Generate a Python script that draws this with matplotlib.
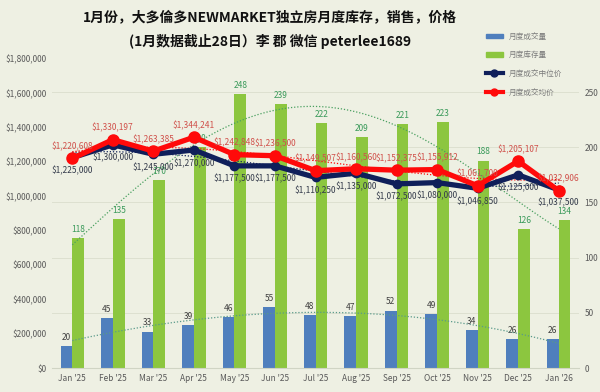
import numpy as np
import matplotlib
matplotlib.use("Agg")
import matplotlib.pyplot as plt
from matplotlib.lines import Line2D
from matplotlib.patches import Patch
from matplotlib.ticker import FuncFormatter

plt.rcParams['font.family'] = ['Noto Sans CJK SC', 'DejaVu Sans']

months = ["Jan '25", "Feb '25", "Mar '25", "Apr '25", "May '25", "Jun '25", "Jul '25",
          "Aug '25", "Sep '25", "Oct '25", "Nov '25", "Dec '25", "Jan '26"]
sales = [20, 45, 33, 39, 46, 55, 48, 47, 52, 49, 34, 26, 26]
inventory = [118, 135, 170, 200, 248, 239, 222, 209, 221, 223, 188, 126, 134]
median_price = [1225000, 1300000, 1245000, 1270000, 1177500, 1177500, 1110250,
                1135000, 1072500, 1080000, 1046850, 1125000, 1037500]
avg_price = [1220608, 1330197, 1263385, 1344241, 1242848, 1236500, 1149507,
             1160560, 1152375, 1155912, 1061700, 1205107, 1032906]

BG = "#eef0e3"
BLUE = "#4f7fbd"
GREEN = "#8cc63f"
NAVY = "#0f1f5a"
RED = "#ff0a0a"

fig = plt.figure(figsize=(6, 3.92), dpi=100, facecolor=BG)
ax = fig.add_axes([0.0867, 0.0612, 0.8783, 0.7883], facecolor=BG)
ax2 = ax.twinx()

x = np.arange(len(months))
w = 0.29

# secondary axis: bars
ax2.bar(x - w / 2, sales, w, color=BLUE, zorder=2)
ax2.bar(x + w / 2, inventory, w, color=GREEN, zorder=2)
ax2.set_ylim(0, 280)
ax2.set_yticks([0, 50, 100, 150, 200, 250])
for xi, v in zip(x, sales):
    ax2.annotate(str(v), (xi - w / 2, v), xytext=(0, 3), textcoords="offset points",
                 ha="center", va="bottom", fontsize=6, color="#404040")
for xi, v in zip(x, inventory):
    ax2.annotate(str(v), (xi + w / 2, v), xytext=(0, 3), textcoords="offset points",
                 ha="center", va="bottom", fontsize=6, color="#3a9a5a")

# polynomial trendlines
xs = np.linspace(0, len(months) - 1, 200)
ax2.plot(xs, np.polyval(np.polyfit(x, sales, 3), xs), ls=(0, (1, 1.5)), lw=0.9,
         color="#5a9a8a", zorder=3)
ax2.plot(xs, np.polyval(np.polyfit(x, inventory, 4), xs), ls=(0, (1, 1.5)), lw=0.9,
         color="#4aa060", zorder=3)
ax2.grid(axis="y", color="#dde0d0", lw=0.7)
ax2.set_axisbelow(True)

# primary axis: prices on top
ax.set_zorder(ax2.get_zorder() + 1)
ax.patch.set_visible(False)
ax.plot(xs, np.polyval(np.polyfit(x, median_price, 3), xs), ls=(0, (1, 1.5)), lw=0.9,
        color=NAVY, zorder=2)
ax.plot(xs, np.polyval(np.polyfit(x, avg_price, 3), xs), ls=(0, (1, 1.5)), lw=0.9,
        color=RED, zorder=2)
ax.plot(x, median_price, color=NAVY, lw=3.8, marker="o", ms=6, zorder=3)
ax.plot(x, avg_price, color=RED, lw=3.8, marker="o", ms=8, zorder=4)
for xi, v in zip(x, median_price):
    ax.annotate(f"${v:,}", (xi, v), xytext=(0, -6), textcoords="offset points",
                ha="center", va="top", fontsize=6, color="#333a4a", zorder=5)
for xi, v in zip(x, avg_price):
    ax.annotate(f"${v:,}", (xi, v), xytext=(0, 5), textcoords="offset points",
                ha="center", va="bottom", fontsize=6, color="#d0504a", zorder=5)

ax.set_ylim(0, 1800000)
ax.set_yticks(np.arange(0, 1800001, 200000))
ax.yaxis.set_major_formatter(FuncFormatter(lambda v, p: f"${int(v):,}"))
ax.set_xlim(-0.5, len(months) - 0.5)
ax.set_xticks(x)
ax.set_xticklabels(months)

for a in (ax, ax2):
    a.tick_params(length=0, labelsize=6, colors="#595959", pad=4)
    for s in a.spines.values():
        s.set_visible(False)
ax.spines["bottom"].set_visible(True)
ax.spines["bottom"].set_color("#d0d4c4")

fig.text(0.45, 0.955, "1月份，大多倫多NEWMARKET独立房月度库存，销售，价格",
         ha="center", va="center", fontsize=10, fontweight="bold", color="#111111")
fig.text(0.45, 0.893, "(1月数据截止28日）李 郡 微信 peterlee1689",
         ha="center", va="center", fontsize=10, fontweight="bold", color="#111111")

handles = [
    Patch(color=BLUE),
    Patch(color=GREEN),
    Line2D([], [], color=NAVY, lw=3, marker="o", ms=5),
    Line2D([], [], color=RED, lw=3, marker="o", ms=5),
]
labels = ["月度成交量", "月度库存量", "月度成交中位价", "月度成交均价"]
fig.legend(handles, labels, loc="upper left", bbox_to_anchor=(0.805, 0.925),
           frameon=False, fontsize=5.5, labelcolor="#7a7a7a", handlelength=2.2,
           handleheight=0.5, labelspacing=1.4, borderaxespad=0)

fig.savefig("out.png", dpi=100, facecolor=BG)
